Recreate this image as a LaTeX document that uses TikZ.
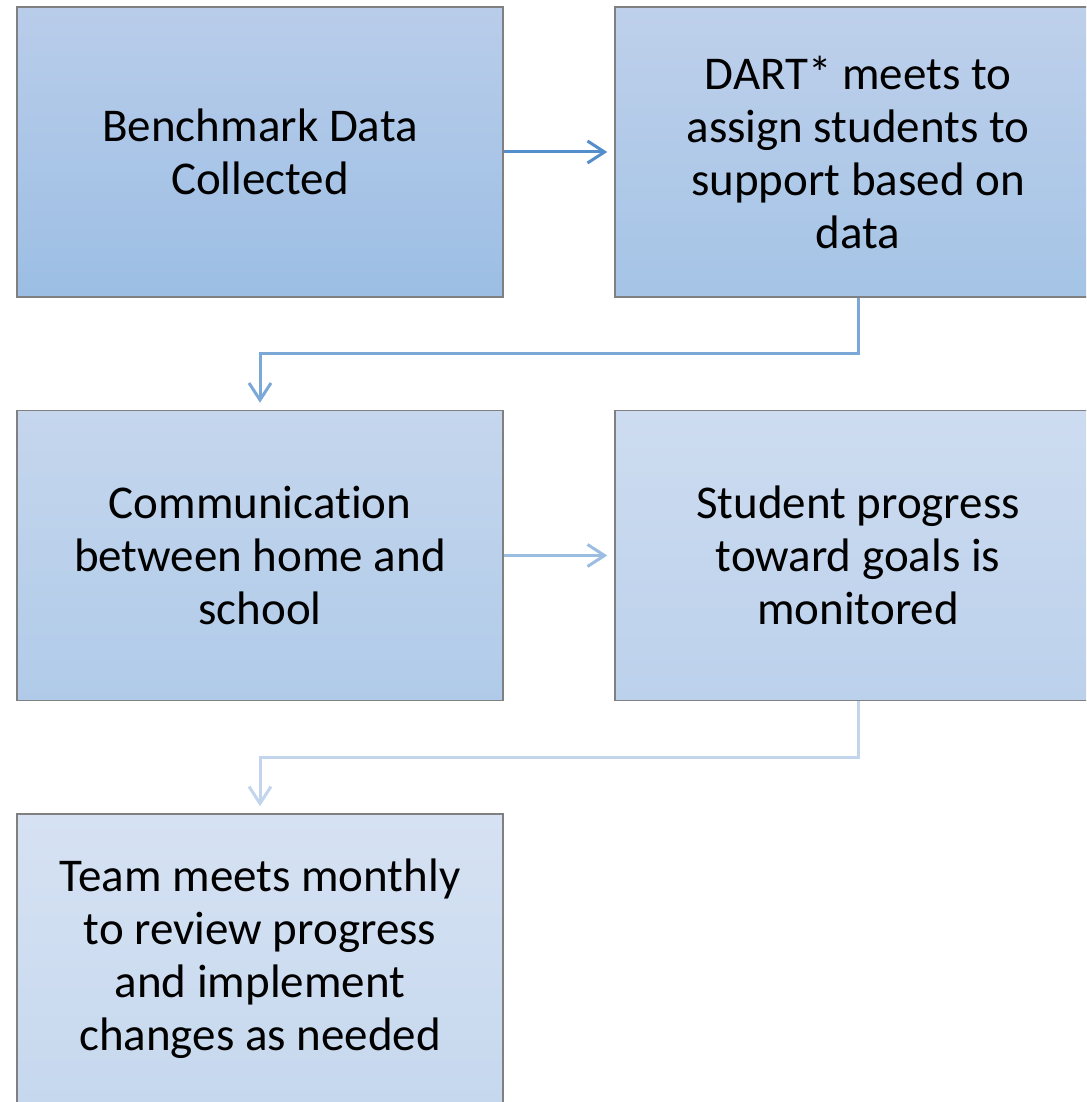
\documentclass[tikz,border=0pt]{standalone}
\usepackage{fontspec}
\setmainfont{Carlito}[Ligatures=NoCommon]
\usetikzlibrary{arrows.meta}

\begin{document}
\begin{tikzpicture}[x=1pt,y=-1pt,
  stepbox/.style={draw={rgb,255:red,128;green,128;blue,128}, line width=1.5pt,
    minimum width=486pt, minimum height=290pt, inner sep=0pt, align=center,
    font=\fontsize{47}{53}\selectfont},
  link/.style={line width=3pt, -{Straight Barb[length=17pt,width=22pt,line width=3pt]}, shorten >=7pt}
]
\useasboundingbox (0,0) rectangle (1086,1102);
\clip (0,0) rectangle (1086,1102);

% Boxes
\node[stepbox, top color={rgb,255:red,185;green,205;blue,234}, bottom color={rgb,255:red,156;green,190;blue,228}]
  (bench) at (260,152) {Benchmark Data\\Collected};
\node[stepbox, top color={rgb,255:red,190;green,208;blue,235}, bottom color={rgb,255:red,165;green,196;blue,230}]
  (dart) at (858,152) {DART* meets to\\assign students to\\support based on\\data};
\node[stepbox, top color={rgb,255:red,197;green,214;blue,237}, bottom color={rgb,255:red,176;green,203;blue,233}]
  (comm) at (260,555.5) {Communication\\between home and\\school};
\node[stepbox, top color={rgb,255:red,205;green,220;blue,240}, bottom color={rgb,255:red,188;green,209;blue,236}]
  (prog) at (858,555.5) {Student progress\\toward goals is\\monitored};
\node[stepbox, top color={rgb,255:red,214;green,226;blue,243}, bottom color={rgb,255:red,198;green,216;blue,238}]
  (team) at (260,959) {Team meets monthly\\to review progress\\and implement\\changes as needed};

% Connectors
\draw[link, color={rgb,255:red,84;green,141;blue,204}] (bench) -- (dart);
\draw[link, color={rgb,255:red,124;green,168;blue,216}] (dart.south) -- ++(0,56) -| (comm.north);
\draw[link, color={rgb,255:red,156;green,189;blue,226}] (comm) -- (prog);
\draw[link, color={rgb,255:red,194;green,213;blue,237}] (prog.south) -- ++(0,56) -| (team.north);

\end{tikzpicture}
\end{document}
